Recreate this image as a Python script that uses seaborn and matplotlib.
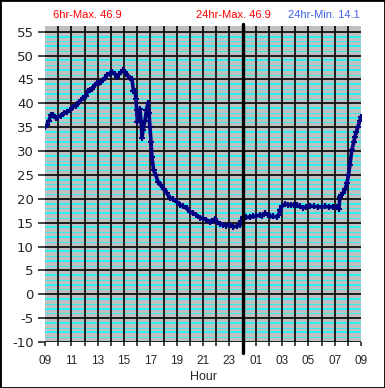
import numpy as np
import pandas as pd
import seaborn as sns
import matplotlib.pyplot as plt
from matplotlib.patches import Rectangle

sns.set_style("white")
plt.rcParams['font.family'] = ['Liberation Sans', 'DejaVu Sans']

# hours since 09:00
hours = [0.00, 0.15, 0.30, 0.45, 0.61, 0.80, 0.99, 1.20, 1.45, 1.67, 1.90, 2.13,
         2.35, 2.60, 2.89, 3.10, 3.25, 3.42, 3.60, 3.80, 3.95, 4.10, 4.25, 4.40,
         4.55, 4.71, 4.90, 5.09, 5.28, 5.47, 5.65, 5.80, 5.92, 6.10, 6.30, 6.45,
         6.61, 6.72, 6.83, 6.91, 6.97, 7.02, 7.10, 7.21, 7.30, 7.37, 7.45, 7.59,
         7.70, 7.82, 7.90, 7.97, 8.05, 8.12, 8.25, 8.40, 8.60, 8.80, 9.00, 9.25,
         9.49, 9.75, 10.00, 10.25, 10.50, 10.75, 11.01, 11.25, 11.50, 11.77, 12.00,
         12.25, 12.53, 12.70, 12.91, 13.10, 13.29, 13.50, 13.75, 14.05, 14.30,
         14.55, 14.81, 14.90, 15.03, 15.30, 15.57, 15.80, 16.05, 16.32, 16.50,
         16.70, 16.90, 17.08, 17.35, 17.62, 17.75, 17.84, 18.00, 18.22, 18.45,
         18.70, 18.90, 19.13, 19.35, 19.59, 19.85, 20.12, 20.40, 20.70, 21.00,
         21.30, 21.60, 21.90, 22.20, 22.32, 22.40, 22.50, 22.63, 22.80, 22.93,
         23.05, 23.16, 23.31, 23.45, 23.54, 23.65, 23.77, 23.90, 24.00]
temp = [35.0, 35.5, 36.4, 37.5, 37.6, 37.0, 37.2, 37.4, 37.9, 38.2, 38.6, 39.3,
        39.5, 40.3, 41.2, 41.5, 42.6, 42.8, 43.0, 43.8, 44.3, 44.2, 44.5, 44.9,
        45.3, 46.0, 46.2, 46.6, 46.2, 45.6, 46.2, 46.6, 46.9, 46.5, 45.8, 45.4,
        45.0, 42.5, 42.6, 41.0, 38.5, 36.1, 37.5, 38.8, 36.0, 32.8, 34.5, 36.3,
        38.5, 40.0, 38.0, 35.0, 32.0, 28.8, 26.0, 25.0, 23.5, 22.8, 22.0, 21.2,
        20.2, 19.9, 19.4, 18.7, 18.4, 18.0, 17.3, 17.0, 16.6, 16.0, 15.9,
        15.6, 15.2, 15.4, 15.8, 15.1, 14.7, 14.6, 14.4, 14.5, 14.1,
        14.3, 14.5, 15.3, 16.2, 16.1, 16.2, 16.3, 16.4, 16.6, 16.5,
        17.0, 16.7, 16.4, 16.3, 16.2, 16.6, 17.7, 18.4, 18.9, 18.8,
        18.7, 18.8, 18.7, 18.4, 18.1, 18.3, 18.5, 18.4, 18.3, 18.3,
        18.4, 18.3, 18.3, 18.2, 17.9, 20.4, 20.8, 21.2, 22.0, 23.3,
        25.0, 27.1, 30.3, 31.8, 33.0, 34.0, 35.1, 36.2, 37.2]
df = pd.DataFrame({"hour": hours, "temp": temp})

xtick_pos = list(range(0, 25, 2))
xtick_labels = ['09', '11', '13', '15', '17', '19', '21', '23', '01', '03', '05', '07', '09']
ytick_pos = list(range(-10, 56, 5))
midnight = 15

fig = plt.figure(figsize=(3.85, 3.88), dpi=100)
fig.patches.append(Rectangle((0, 0), 1, 1, transform=fig.transFigure,
                             fill=False, edgecolor='black', linewidth=2))
ax = fig.add_axes([45 / 385, 1 - 342 / 388, 316 / 385, 316 / 388])
ax.set_facecolor('#c0c0c0')

# cyan minor lines every degree
for v in np.arange(-9, 56, 1):
    if v % 5 != 0:
        ax.axhline(v, color='#00ffff', linewidth=1.1 if v % 5 in (2, 4) else 0.5,
                   zorder=1)
for v in ytick_pos:
    ax.axhline(v, color='black', linewidth=1.2, zorder=2)
for v in range(1, 24):
    ax.axvline(v, color='black', linewidth=1.2, zorder=2)

sns.lineplot(data=df, x="hour", y="temp", ax=ax, color='#000080', linewidth=2.6,
             marker='+', markersize=5, markeredgewidth=1.5,
             markeredgecolor='#000080', zorder=4)

ax.plot([midnight, midnight], [-12.3, 56.6], color='black', linewidth=2.4,
        clip_on=False, zorder=5)

ax.set_xlim(0, 24)
ax.set_ylim(-10, 56.2)
ax.set_xticks(xtick_pos)
ax.set_xticklabels(xtick_labels, fontsize=8.5)
ax.set_xticks(range(0, 25), minor=True)
ax.set_yticks(ytick_pos)
ax.set_yticklabels([str(v) for v in ytick_pos], fontsize=9.5, family='DejaVu Sans')
ax.tick_params(axis='y', which='major', direction='out', length=5, width=1.2,
               pad=3, left=True)
ax.tick_params(axis='x', which='both', direction='out', length=3, width=1.2,
               pad=6, bottom=True)
ax.set_xlabel("Hour", fontsize=9, labelpad=3)
ax.set_ylabel("")
for s in ax.spines.values():
    s.set_visible(False)

fig.text(87 / 385, 1 - 15.5 / 388, "6hr-Max. 46.9", color='red', fontsize=8,
         ha='center', va='center')
fig.text(233 / 385, 1 - 15.5 / 388, "24hr-Max. 46.9", color='red', fontsize=8,
         ha='center', va='center')
fig.text(324 / 385, 1 - 15.5 / 388, "24hr-Min. 14.1", color='#3f62e6', fontsize=8,
         ha='center', va='center')

fig.savefig("out.png", dpi=100)
